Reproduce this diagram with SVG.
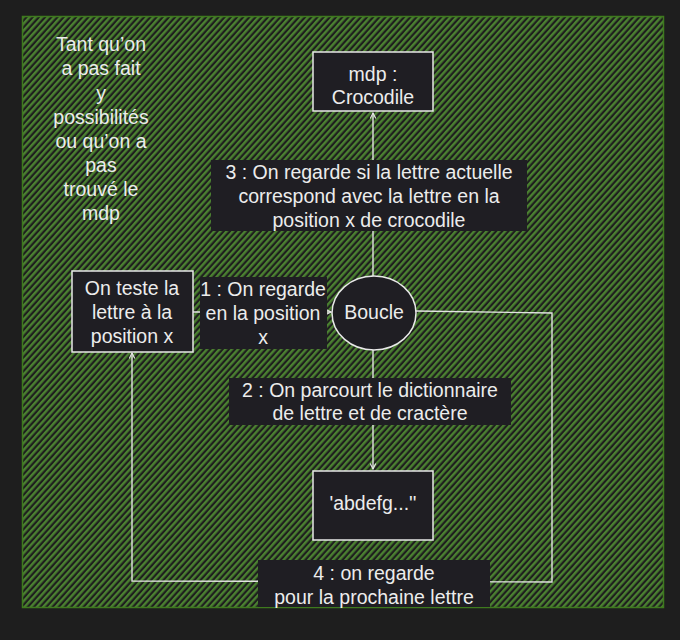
<svg xmlns="http://www.w3.org/2000/svg" width="680" height="640" viewBox="0 0 680 640">
<defs>
<pattern id="hatch" width="4.6" height="10" patternUnits="userSpaceOnUse" patternTransform="rotate(42)">
<rect x="0" y="0" width="2.4" height="10" fill="#4b8131"/>
</pattern>
<marker id="ah" viewBox="0 0 10 10" refX="9" refY="5" markerWidth="7" markerHeight="7" orient="auto-start-reverse" markerUnits="userSpaceOnUse">
<path d="M1,1 L9,5 L1,9" fill="none" stroke="#e6e6e6" stroke-width="1.6"/>
</marker>
</defs>
<style>
.t{font-family:"Liberation Sans","DejaVu Sans",sans-serif;font-size:19.5px;fill:#ececec;text-anchor:middle;dominant-baseline:central}
.box{fill:#1f1e23;stroke:#e8e8e8;stroke-width:1.5}
.lbl{fill:#1f1e23}
.edge{fill:none;stroke:#e3e3e3;stroke-width:1.4}
</style>
<rect x="0" y="0" width="680" height="640" fill="#1e1e1e"/>
<g id="background">
<rect x="22.5" y="16.5" width="641" height="591" fill="url(#hatch)" stroke="#3e7a1e" stroke-width="1.5"/>
</g>
<g id="note">
<text class="t" x="101" y="44">Tant qu’on</text>
<text class="t" x="101" y="68">a pas fait</text>
<text class="t" x="101" y="93">y</text>
<text class="t" x="101" y="117">possibilités</text>
<text class="t" x="101" y="141">ou qu’on a</text>
<text class="t" x="101" y="165">pas</text>
<text class="t" x="101" y="189">trouvé le</text>
<text class="t" x="101" y="213">mdp</text>
</g>
<g id="connectors">
<line class="edge" x1="373" y1="276" x2="373" y2="113" marker-end="url(#ah)"/>
<line class="edge" x1="193" y1="312" x2="331" y2="312" marker-end="url(#ah)"/>
<line class="edge" x1="373" y1="350" x2="373" y2="469" marker-end="url(#ah)"/>
<path class="edge" d="M416,311 L552,313 L552,582 L132,581 L132,353" marker-end="url(#ah)"/>
<rect class="lbl" x="211" y="160" width="316" height="71"/>
<text class="t" x="369" y="172">3 : On regarde si la lettre actuelle</text>
<text class="t" x="369" y="196">correspond avec la lettre en la</text>
<text class="t" x="369" y="220">position x de crocodile</text>
<rect class="lbl" x="200" y="277" width="127" height="72"/>
<text class="t" x="263" y="289">1 : On regarde</text>
<text class="t" x="263" y="313">en la position</text>
<text class="t" x="263" y="337">x</text>
<rect class="lbl" x="229" y="378" width="282" height="47"/>
<text class="t" x="370" y="390">2 : On parcourt le dictionnaire</text>
<text class="t" x="370" y="413">de lettre et de cractère</text>
<rect class="lbl" x="258" y="560" width="232" height="47"/>
<text class="t" x="374" y="573">4 : on regarde</text>
<text class="t" x="374" y="597">pour la prochaine lettre</text>
</g>
<g id="mdp">
<rect class="box" x="313" y="52" width="120" height="59"/>
<text class="t" x="373" y="74">mdp :</text>
<text class="t" x="373" y="97">Crocodile</text>
</g>
<g id="boucle">
<ellipse class="box" cx="374" cy="313" rx="42" ry="37"/>
<text class="t" x="374" y="312">Boucle</text>
</g>
<g id="teste">
<rect class="box" x="72" y="271" width="121" height="81"/>
<text class="t" x="132" y="288">On teste la</text>
<text class="t" x="132" y="312">lettre à la</text>
<text class="t" x="132" y="336">position x</text>
</g>
<g id="abdefg">
<rect class="box" x="313" y="471" width="120" height="69"/>
<text class="t" x="373" y="503">'abdefg...''</text>
</g>
</svg>
